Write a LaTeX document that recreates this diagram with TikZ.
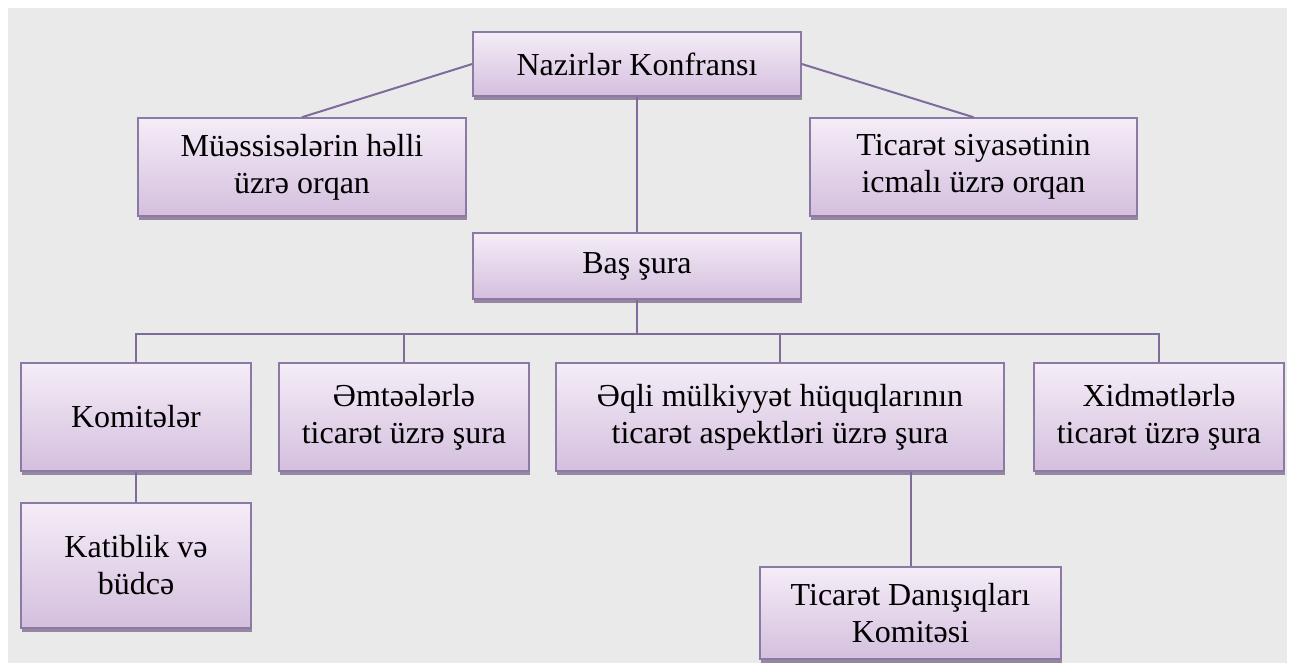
\documentclass[tikz,border=0pt]{standalone}
\usepackage{fontspec}
\setmainfont{Liberation Serif}
\usetikzlibrary{shadows}
\definecolor{bgray}{HTML}{EAEAEA}
\definecolor{boxtop}{HTML}{F5EDF7}
\definecolor{boxbot}{HTML}{D4BFDE}
\definecolor{boxline}{HTML}{8A7AA5}
\definecolor{conn}{HTML}{7D6C9C}
\definecolor{shad}{HTML}{8C7D98}
\tikzset{
  orgbox/.style={draw=boxline, line width=1.6pt, top color=boxtop, bottom color=boxbot,
    inner sep=0pt, align=center, font=\fontsize{32}{37}\selectfont,
    drop shadow={shadow xshift=1pt, shadow yshift=-4pt, fill=shad, opacity=0.9}},
  conline/.style={draw=conn, line width=2pt}
}
\begin{document}
\begin{tikzpicture}[x=1pt,y=-1pt]
\useasboundingbox (0,0) rectangle (1294,669);
\fill[white] (0,0) rectangle (1294,669);
\fill[bgray] (8,8) rectangle (1287,663);
% nodes
\node[orgbox, minimum width=328pt, minimum height=64pt] (nk) at (637,64) {Nazirlər Konfransı};
\node[orgbox, minimum width=328pt, minimum height=98pt] (mh) at (302,167) {Müəssisələrin həlli\\üzrə orqan};
\node[orgbox, minimum width=327pt, minimum height=98pt] (ts) at (973.5,167) {Ticarət siyasətinin\\icmalı üzrə orqan};
\node[orgbox, minimum width=328pt, minimum height=66pt] (bs) at (637,266) {Baş şura};
\node[orgbox, minimum width=230pt, minimum height=108pt] (kom) at (136,417) {Komitələr};
\node[orgbox, minimum width=250pt, minimum height=108pt] (emt) at (404,417) {Əmtəələrlə\\ticarət üzrə şura};
\node[orgbox, minimum width=448pt, minimum height=108pt] (aq) at (780,417) {Əqli mülkiyyət hüquqlarının\\ticarət aspektləri üzrə şura};
\node[orgbox, minimum width=250pt, minimum height=108pt] (xid) at (1159,417) {Xidmətlərlə\\ticarət üzrə şura};
\node[orgbox, minimum width=230pt, minimum height=125pt] (kat) at (136,565.5) {Katiblik və\\büdcə};
\node[orgbox, minimum width=301pt, minimum height=92pt] (td) at (910.5,613) {Ticarət Danışıqları\\Komitəsi};
\coordinate (bus) at (637,334);
% connectors
\draw[conline] (nk.west) -- (mh.north);
\draw[conline] (nk.east) -- (ts.north);
\draw[conline] (nk.south) -- (bs.north);
\draw[conline] (bs.south) -- (bus);
\draw[conline] (kom.north) |- (bus) -| (xid.north);
\draw[conline] (emt.north) -- (emt.north |- bus);
\draw[conline] (aq.north) -- (aq.north |- bus);
\draw[conline] (kom.south) -- (kat.north);
\draw[conline] (td.north) -- (td.north |- aq.south);
\end{tikzpicture}
\end{document}
